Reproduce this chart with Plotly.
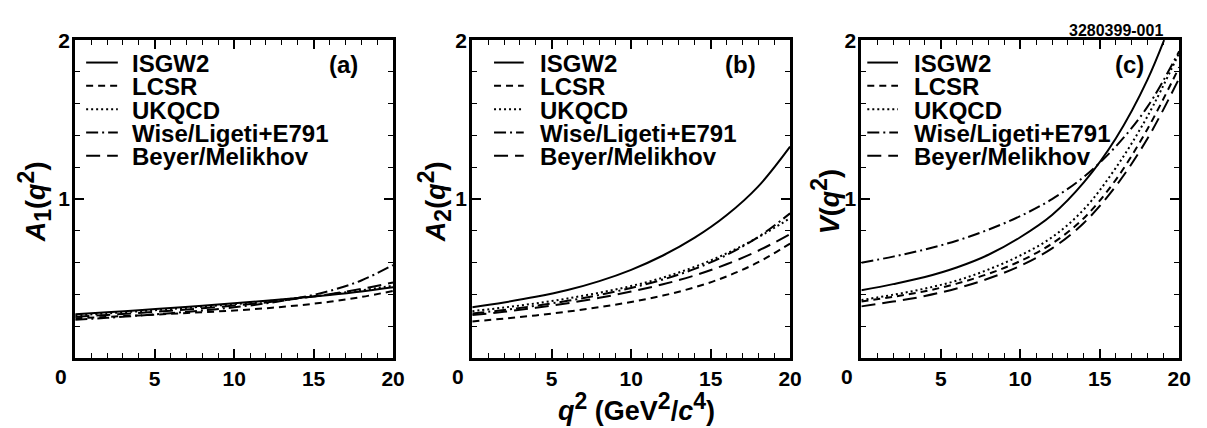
import plotly.graph_objects as go

# q^2 sampling points (GeV^2/c^4)
q2 = [0, 2, 4, 6, 8, 10, 12, 14, 16, 18, 20]

models = ["ISGW2", "LCSR", "UKQCD", "Wise/Ligeti+E791", "Beyer/Melikhov"]

# A1(q^2)
a1_isgw2 = [0.275, 0.288, 0.301, 0.315, 0.329, 0.344, 0.360, 0.378, 0.397, 0.419, 0.445]
a1_lcsr = [0.250, 0.259, 0.268, 0.278, 0.288, 0.299, 0.313, 0.331, 0.354, 0.384, 0.422]
a1_ukqcd = [0.268, 0.281, 0.294, 0.308, 0.323, 0.339, 0.357, 0.377, 0.400, 0.426, 0.455]
a1_wise = [0.240, 0.253, 0.267, 0.282, 0.299, 0.319, 0.344, 0.377, 0.422, 0.488, 0.585]
a1_beyer = [0.260, 0.271, 0.284, 0.298, 0.313, 0.330, 0.350, 0.374, 0.402, 0.435, 0.475]

# A2(q^2)
a2_isgw2 = [0.320, 0.350, 0.385, 0.428, 0.484, 0.555, 0.645, 0.757, 0.898, 1.080, 1.330]
a2_lcsr = [0.230, 0.248, 0.268, 0.292, 0.320, 0.353, 0.393, 0.445, 0.513, 0.603, 0.720]
a2_ukqcd = [0.295, 0.318, 0.344, 0.375, 0.411, 0.453, 0.506, 0.574, 0.658, 0.760, 0.880]
a2_wise = [0.280, 0.302, 0.329, 0.360, 0.397, 0.441, 0.494, 0.561, 0.648, 0.762, 0.910]
a2_beyer = [0.270, 0.291, 0.316, 0.345, 0.379, 0.418, 0.464, 0.520, 0.590, 0.675, 0.780]

# V(q^2)
v_isgw2 = [0.426, 0.465, 0.510, 0.570, 0.650, 0.760, 0.900, 1.105, 1.380, 1.750, 2.250]
v_lcsr = [0.355, 0.385, 0.420, 0.468, 0.530, 0.610, 0.720, 0.880, 1.120, 1.440, 1.830]
v_ukqcd = [0.365, 0.398, 0.437, 0.487, 0.557, 0.645, 0.760, 0.935, 1.195, 1.520, 1.920]
v_wise = [0.600, 0.638, 0.683, 0.738, 0.808, 0.893, 1.000, 1.140, 1.330, 1.580, 1.930]
v_beyer = [0.325, 0.355, 0.390, 0.438, 0.500, 0.580, 0.690, 0.850, 1.080, 1.380, 1.760]

panels = [
    ("a", "<i>A</i><sub><span style='font-size:23px'>1</span></sub>(<i>q</i><sup><span style='font-size:23px'>2</span></sup>)",
     [a1_isgw2, a1_lcsr, a1_ukqcd, a1_wise, a1_beyer]),
    ("b", "<i>A</i><sub><span style='font-size:23px'>2</span></sub>(<i>q</i><sup><span style='font-size:23px'>2</span></sup>)",
     [a2_isgw2, a2_lcsr, a2_ukqcd, a2_wise, a2_beyer]),
    ("c", "<i>V</i>(<i>q</i><sup><span style='font-size:23px'>2</span></sup>)",
     [v_isgw2, v_lcsr, v_ukqcd, v_wise, v_beyer]),
]

dashes = ["solid", "7px,5px", "2px,3px", "12px,4px,2px,4px", "14px,7px"]

W, H = 1207, 428
FONT = "Liberation Sans, Arial, Helvetica, sans-serif"

# panel layout in pixels
x_left = [76, 477, 870]
x_width = 321
y_top, y_bottom = 29, 356
# key offsets within each panel: (line start, line end, text start)
leg_off = [(11, 43, 55), (22, 52, 66), (6, 37, 51)]
leg_rows = [52, 76, 100, 124, 148]
ytitle_x = [35, 439, 833]

fig = go.Figure()
annotations = []
shapes = []

for i, (tag, ytitle, series) in enumerate(panels):
    xa = "x" if i == 0 else f"x{i+1}"
    ya = "y" if i == 0 else f"y{i+1}"
    for name, vals, dash in zip(models, series, dashes):
        fig.add_trace(go.Scatter(
            x=q2, y=vals, mode="lines", name=name, xaxis=xa, yaxis=ya,
            line=dict(color="black", width=2, dash=dash, shape="spline", smoothing=1.0),
            showlegend=False, hoverinfo="skip",
        ))

    dom_x = [x_left[i] / W, (x_left[i] + x_width) / W]
    dom_y = [1 - y_bottom / H, 1 - y_top / H]
    axis_common = dict(
        showline=True, linecolor="black", linewidth=3, mirror="ticks",
        ticks="inside", tickcolor="black", tickwidth=1.5,
        showgrid=False, zeroline=False,
        tickfont=dict(family=FONT, size=21, color="black", weight="bold"),
    )
    fig.layout[f"xaxis{'' if i == 0 else i+1}"] = dict(
        domain=dom_x, range=[0, 20], anchor=ya,
        tickmode="array", tickvals=[0, 5, 10, 15, 20], ticktext=["", "5", "10", "15", "20"],
        ticklen=9, ticklabelstandoff=0,
        minor=dict(tickmode="linear", tick0=0, dtick=1, ticklen=5, ticks="inside",
                   tickcolor="black", tickwidth=1.2),
        **axis_common,
    )
    fig.layout[f"yaxis{'' if i == 0 else i+1}"] = dict(
        domain=dom_y, range=[0, 2], anchor=xa,
        tickmode="array", tickvals=[0, 1, 2], ticktext=["", "1", "2"],
        ticklen=9, ticklabelstandoff=-2,
        minor=dict(tickmode="linear", tick0=0, dtick=0.2, ticklen=5, ticks="inside",
                   tickcolor="black", tickwidth=1.2),
        **axis_common,
    )

    # "0" label sits left of the axis origin
    annotations.append(dict(
        text="0", x=0, xref=xa, y=1 - 375 / H, yref="paper", xshift=-14,
        showarrow=False, xanchor="center", yanchor="middle",
        font=dict(family=FONT, size=21, color="black", weight="bold"),
    ))
    # y axis title
    annotations.append(dict(
        text=ytitle, x=ytitle_x[i] / W, xref="paper", y=1 - 195 / H, yref="paper",
        textangle=-90, showarrow=False, xanchor="center", yanchor="middle",
        font=dict(family=FONT, size=27, color="black", weight="bold"),
    ))
    # panel tag
    annotations.append(dict(
        text=f"({tag})", x=(x_left[i] + 271) / W, xref="paper", y=1 - 54 / H, yref="paper",
        showarrow=False, xanchor="center", yanchor="middle",
        font=dict(family=FONT, size=24, color="black", weight="bold"),
    ))
    # per-panel key
    l0, l1, t0 = leg_off[i]
    for name, dash, row in zip(models, dashes, leg_rows):
        shapes.append(dict(
            type="line", xref="paper", yref="paper",
            x0=(x_left[i] + l0) / W, x1=(x_left[i] + l1) / W,
            y0=1 - row / H, y1=1 - row / H,
            line=dict(color="black", width=2, dash=dash),
        ))
        annotations.append(dict(
            text=name, x=(x_left[i] + t0) / W, xref="paper", y=1 - (row + 1) / H, yref="paper",
            showarrow=False, xanchor="left", yanchor="middle",
            font=dict(family=FONT, size=24, color="black", weight="bold"),
        ))

# shared x axis title
annotations.append(dict(
    text="<i>q</i><sup><span style='font-size:23px'>2</span></sup> (GeV<sup><span style='font-size:23px'>2</span></sup>/<i>c</i><sup><span style='font-size:23px'>4</span></sup>)",
    x=643 / W, xref="paper", y=1 / H, yref="paper",
    showarrow=False, xanchor="center", yanchor="bottom", borderpad=0,
    font=dict(family=FONT, size=27, color="black", weight="bold"),
))
# figure id
annotations.append(dict(
    text="3280399-001", x=1127 / W, xref="paper", y=1 - 19 / H, yref="paper",
    showarrow=False, xanchor="center", yanchor="middle",
    font=dict(family=FONT, size=16, color="black", weight="bold"),
))

fig.update_layout(
    width=W, height=H, margin=dict(l=0, r=0, t=0, b=0),
    paper_bgcolor="white", plot_bgcolor="white",
    annotations=annotations, shapes=shapes, showlegend=False,
)

fig.write_html("out.html")
